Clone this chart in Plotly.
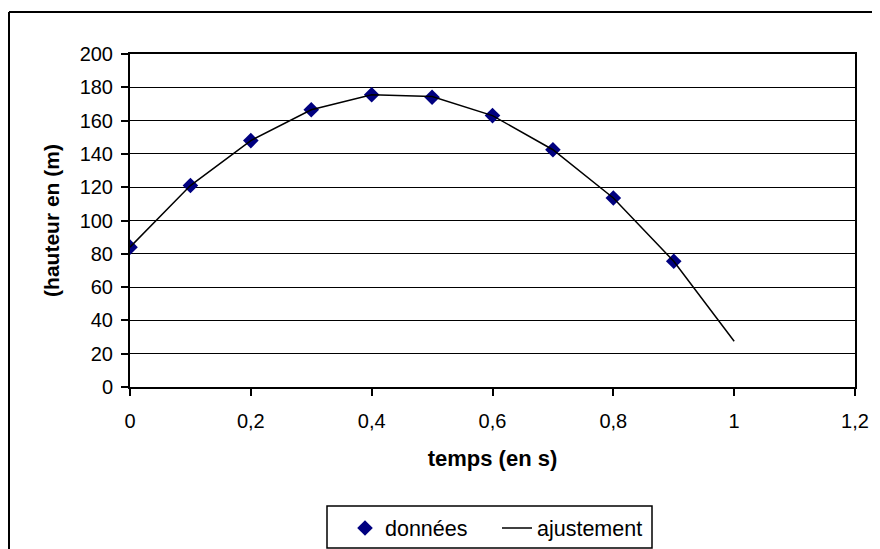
import plotly.graph_objects as go

# Data
temps = [0, 0.1, 0.2, 0.3, 0.4, 0.5, 0.6, 0.7, 0.8, 0.9]
hauteur = [84, 121, 148, 166.5, 175.5, 174, 163, 142.5, 113.5, 75.5]
temps_fit = [0, 0.1, 0.2, 0.3, 0.4, 0.5, 0.6, 0.7, 0.8, 0.9, 1.0]
hauteur_fit = [84, 121, 148, 166.5, 175.5, 174.5, 163, 142.5, 113.5, 75.5, 27.5]
x_ticks = [0, 0.2, 0.4, 0.6, 0.8, 1, 1.2]
x_labels = ["0", "0,2", "0,4", "0,6", "0,8", "1", "1,2"]
y_ticks = list(range(0, 201, 20))

OFF = 8  # default body margin of the html page
W, H = 880 - OFF, 549 - OFF
L, R, T, B = 130 - OFF, 25, 54 - OFF, 162
PW, PH = W - L - R, H - T - B

def px(xs):
    # screen x (reference coords) -> paper fraction
    return (xs - OFF - L) / PW

def py(ys):
    # screen y (reference coords) -> paper fraction
    return (H - B - (ys - OFF)) / PH

FONT = "Liberation Sans, Arial, sans-serif"

fig = go.Figure()
fig.add_trace(go.Scatter(
    x=temps, y=hauteur, mode="markers", name="données",
    marker=dict(symbol="diamond", size=12, color="#000080"),
))
fig.add_trace(go.Scatter(
    x=temps_fit, y=hauteur_fit, mode="lines", name="ajustement",
    line=dict(color="black", width=1.5),
))

fig.update_layout(
    width=W, height=H,
    margin=dict(l=L, r=R, t=T, b=B, autoexpand=False),
    paper_bgcolor="white", plot_bgcolor="white",
    font=dict(family=FONT, size=20, color="black"),
    showlegend=True,
    legend=dict(
        orientation="h", x=px(345), xanchor="left",
        y=py(528), yanchor="middle",
        bgcolor="rgba(0,0,0,0)", borderwidth=0,
        font=dict(size=21.5), entrywidth=107, entrywidthmode="pixels",
    ),
    xaxis=dict(
        range=[0, 1.2], tickvals=x_ticks, ticktext=x_labels,
        showgrid=False, zeroline=False,
        showline=True, linecolor="black", linewidth=2, mirror=True,
        ticks="outside", ticklen=7, tickwidth=1.5, tickcolor="black",
        ticklabelstandoff=8,
        title=dict(text="<b>temps (en s)</b>", font=dict(size=22), standoff=20),
    ),
    yaxis=dict(
        range=[0, 200], tickvals=y_ticks,
        showgrid=True, gridcolor="black", gridwidth=1.2, zeroline=False,
        showline=True, linecolor="black", linewidth=2, mirror=True,
        ticks="outside", ticklen=7, tickwidth=1.5, tickcolor="black",
        ticklabelstandoff=4,
        title=dict(text="<b>(hauteur en (m)</b>", font=dict(size=21), standoff=14),
    ),
    shapes=[
        # outer chart border (left and top edges; the others are off-canvas)
        dict(type="line", xref="paper", yref="paper",
             x0=px(9), x1=px(9), y0=py(600), y1=py(12),
             line=dict(color="black", width=2), layer="below"),
        dict(type="line", xref="paper", yref="paper",
             x0=px(9), x1=px(920), y0=py(12), y1=py(12),
             line=dict(color="black", width=2), layer="below"),
        # legend box
        dict(type="rect", xref="paper", yref="paper",
             x0=px(327), x1=px(652), y0=py(548), y1=py(506),
             line=dict(color="black", width=1.5), layer="below"),
    ],
)

fig.write_html("out.html")
